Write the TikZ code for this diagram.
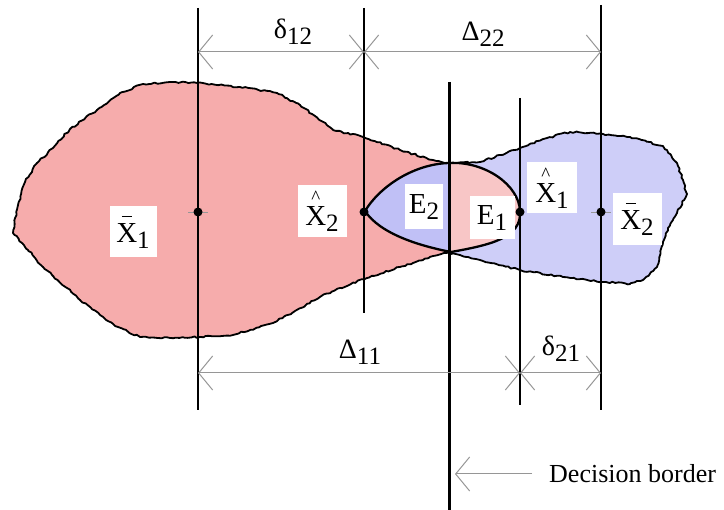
\documentclass[tikz,border=0pt]{standalone}
\usepackage{fontspec}
\setmainfont{Liberation Serif}
\usetikzlibrary{arrows.meta,decorations.pathmorphing}
\definecolor{redfill}{RGB}{246,172,172}
\definecolor{bluefill}{RGB}{206,206,248}
\definecolor{etwofill}{RGB}{192,192,246}
\definecolor{eonefill}{RGB}{248,198,198}
\definecolor{dimgray}{RGB}{150,150,150}
\newlength\xw
\newcommand\accX[2]{\settowidth\xw{X}\makebox[0pt][l]{\makebox[\xw]{\raisebox{#2}{#1}}}X}
\newcommand\sbs[1]{\raisebox{-6pt}{\fontsize{25}{25}\selectfont #1}}
\newcommand\hatmark{{\fontsize{19}{19}\selectfont\textasciicircum}}
\begin{document}
\begin{tikzpicture}[x=1pt,y=-1pt,
  blob/.style={draw=black,line width=1.8pt,line join=round,decorate,
    decoration={random steps,segment length=3pt,amplitude=0.9pt}},
  vline/.style={draw=black,line width=2pt},
  dline/.style={draw=black,line width=3pt},
  dim/.style={draw=dimgray,line width=1pt,{Straight Barb[length=14pt,width=34pt]}-{Straight Barb[length=14pt,width=34pt]}},
  lbl/.style={fill=white,inner sep=0pt,font=\fontsize{29}{30}\selectfont},
  dimlbl/.style={inner sep=0pt,font=\fontsize{28}{29}\selectfont},
  pt/.style={fill=black}]
\useasboundingbox (0,0) rectangle (724,510);
\pgfmathsetseed{7}
% red blob
\path[blob,fill=redfill] (13,233) -- (18,205) -- (25,182) -- (37,163) -- (53,148) -- (70,129) -- (97,110) -- (120,93) -- (143,84) -- (170,82) -- (197,83) -- (240,87) -- (277,93) -- (300,105) -- (315,116) -- (333,130) -- (363,137) -- (400,150) -- (433,160) -- (449,164)
 -- (447,253) -- (433,256) -- (400,267) -- (367,278) -- (340,288) -- (320,297) -- (295,311) -- (273,323) -- (233,335) -- (200,337) -- (170,338) -- (140,337) -- (118,327) -- (100,315) -- (80,300) -- (67,288) -- (52,275) -- (43,267) -- (28,250) -- cycle;
% blue blob
\path[blob,fill=bluefill] (449,163) -- (480,162) -- (500,155) -- (520,148) -- (547,138) -- (570,132) -- (603,134) -- (630,137) -- (663,146) -- (677,163) -- (683,180) -- (687,194) -- (677,213) -- (668,228) -- (663,242) -- (657,267) -- (643,280) -- (630,284) -- (603,282) -- (563,277) -- (520,270) -- (480,260) -- (449,253) -- cycle;
% lens E
\begin{scope}
\clip (300,100) rectangle (449,300);
\fill[etwofill] (365,211) .. controls (381,185) and (415,164) .. (449,163) .. controls (485,161) and (519,185) .. (520,211) .. controls (522,238) and (490,245) .. (451,252) .. controls (420,246) and (380,234) .. (365,211);
\end{scope}
\begin{scope}
\clip (449,100) rectangle (600,300);
\fill[eonefill] (365,211) .. controls (381,185) and (415,164) .. (449,163) .. controls (485,161) and (519,185) .. (520,211) .. controls (522,238) and (490,245) .. (451,252) .. controls (420,246) and (380,234) .. (365,211);
\end{scope}
\draw[line width=2.3pt] (365,211) .. controls (381,185) and (415,164) .. (449,163) .. controls (485,161) and (519,185) .. (520,211) .. controls (522,238) and (490,245) .. (451,252) .. controls (420,246) and (380,234) .. (365,211);
% vertical lines
\coordinate (Atop) at (198,8);  \coordinate (Abot) at (198,410);
\coordinate (Btop) at (364,8);  \coordinate (Bbot) at (364,313);
\coordinate (Ctop) at (520,98); \coordinate (Cbot) at (520,405);
\coordinate (Dtop) at (601,5);  \coordinate (Dbot) at (601,410);
\coordinate (DBtop) at (449,82); \coordinate (DBbot) at (449,510);
\draw[vline] (Atop) -- (Abot);
\draw[vline] (Btop) -- (Bbot);
\draw[vline] (Ctop) -- (Cbot);
\draw[vline] (Dtop) -- (Dbot);
\draw[dline] (DBtop) -- (DBbot);
% points
\coordinate (xbar1) at (198,212);
\coordinate (xhat2) at (364,212);
\coordinate (xhat1) at (520,212);
\coordinate (xbar2) at (601,212);
\draw[dimgray,line width=0.8pt] (188,212) -- (208,212);
\draw[dimgray,line width=0.8pt] (591,212) -- (611,212);
\foreach \p in {xbar1,xhat2,xhat1,xbar2} \fill (\p) circle[radius=4.5pt];
% labels
\node[lbl,minimum width=47pt,minimum height=51pt] (lx1) at (133,232) {\accX{\rule{10pt}{1.4pt}}{25pt}\sbs{1}};
\node[lbl,minimum width=49pt,minimum height=52pt] (lh2) at (322,211) {\accX{\hatmark}{22pt}\sbs{2}};
\node[lbl,minimum width=38pt,minimum height=45pt] (le2) at (424,207) {E\sbs{2}};
\node[lbl,minimum width=45pt,minimum height=43pt] (le1) at (492,218) {E\sbs{1}};
\node[lbl,minimum width=50pt,minimum height=51pt] (lh1) at (552,188) {\accX{\hatmark}{22pt}\sbs{1}};
\node[lbl,minimum width=49pt,minimum height=52pt] (lx2) at (637,219) {\accX{\rule{10pt}{1.4pt}}{25pt}\sbs{2}};
% dimensions top
\coordinate (At) at (198,52); \coordinate (Bt) at (364,52); \coordinate (Dt) at (601,52);
\draw[dim] (At) -- (Bt);
\draw[dim] (Bt) -- (Dt);
\node[dimlbl] (d12) at (293,32) {δ\sbs{12}};
\node[dimlbl] (D22) at (483,34) {Δ\sbs{22}};
% dimensions bottom
\coordinate (Ab) at (198,373); \coordinate (Cb) at (520,373); \coordinate (Db) at (601,373);
\draw[dim] (Ab) -- (Cb);
\draw[dim] (Cb) -- (Db);
\node[dimlbl] (D11) at (360,352) {Δ\sbs{11}};
\node[dimlbl] (d21) at (561,349) {δ\sbs{21}};
% decision border
\coordinate (dbs) at (532,474); \coordinate (dbe) at (455,474);
\draw[draw=dimgray,line width=1pt,-{Straight Barb[length=14pt,width=34pt]}] (dbs) -- (dbe);
\node[inner sep=0pt,anchor=west,font=\fontsize{26}{27}\selectfont] (dbl) at (549,474) {Decision border};
\end{tikzpicture}
\end{document}
